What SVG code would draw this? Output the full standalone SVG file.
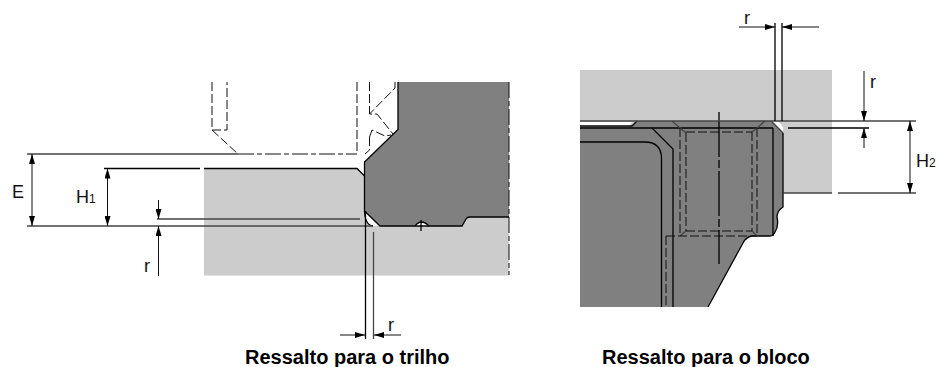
<svg xmlns="http://www.w3.org/2000/svg" width="939" height="367" viewBox="0 0 939 367">
<defs>
<marker id="a" viewBox="0 0 10 6" refX="10" refY="3" markerWidth="10" markerHeight="6" markerUnits="userSpaceOnUse" orient="auto-start-reverse"><path d="M0 0L10 3L0 6Z" fill="#000"/></marker>
</defs>
<style>
.l{fill:#ccc}.d{fill:#808080}
.k{fill:none;stroke:#000;stroke-width:1.3}
.g{fill:none;stroke:#444;stroke-width:1.3}
.da{fill:none;stroke:#111;stroke-width:1;stroke-dasharray:9 3}
.dd{fill:none;stroke:#111;stroke-width:1;stroke-dasharray:16 3 5 3}
.ar{fill:none;stroke:#111;stroke-width:1;marker-end:url(#a)}
text{font-family:"Liberation Sans",Arial,sans-serif;font-size:18px;fill:#111}
.b{font-weight:bold;font-size:20px;fill:#000}
.s{font-size:12px}
</style>
<g id="rail-part">
<rect class="l" x="204" y="168.5" width="305" height="107"/>
<path d="M357 168.5L364.500 176V168Z" fill="#fff"/>
<path class="d" d="M398 82V129.500L364.500 162V211L380 226H462L466 219Q467 217 470 217H509V82Z"/>
<path d="M364.500 211L380 226H373Q365.500 225 364.500 217Z" fill="#fff"/>
<path d="M415 226Q421 218 429 226Z" fill="#fff"/>
<path class="k" d="M398 82V129.500L364.500 162V211L380 226H462L466 219Q467 217 470 217H509"/>
<path class="k" d="M104 168.500H200M204 168.500H357L364.500 176M364.500 211Q365 225 373 226"/>
<path d="M415 226Q421 218 429 226M421 220V231" class="k"/>
<path class="dd" d="M509 82V275"/>
<path class="da" d="M212 82V130H227V82M357 82V154M369.500 82V114M369.500 137V150L365 154"/>
<path class="da" d="M212 130L238 154" stroke-dasharray="none"/>
<path class="dd" d="M238 154H357"/>
<path class="da" stroke-dasharray="7 2" d="M395 82V88L369.500 114H377L393 134M369.500 137L372 130L385 136L391 135"/>
</g>
<g id="block-part">
<rect class="l" x="580" y="70" width="252" height="123"/>
<path d="M580 122H632L629 126H580Z" fill="#fff"/>
<path class="d" d="M580 127H629L632 126L637 121H771L783 133V207Q777 211 777 217Q779 226 775 232Q773 236 770 236H752Q746 237 743 243L708 307H580Z"/>
<path d="M773 121L783 132V128Q781 122 775 121Z" fill="#fff"/>
<path class="k" d="M783 133V207Q777 211 777 217Q779 226 775 232Q773 236 770 236H752Q746 237 743 243L708 307"/>
<path class="k" d="M580 142H645Q661 142 661.500 158V307M652 128L673 149V307M773 128V236"/>
<path class="k" d="M580 128H773M637 121L632 126H580"/>
<path class="g" d="M771 121L783 133M672 121L679 127L686 133M757 128L765 121M752 132L757 128M680 236L686 231M752 231L757 236"/>
<path class="da" d="M680 128V236M686 133V231M686 132H752M686 231H752M666 236H757M752 132V231M757 128V236M666 236V307"/>
<path class="k" d="M719 112V264" stroke-dasharray="45 3 8 3"/>
</g>
<g id="connectors">
<path class="g" d="M27 154H238M27 226H372M157 219H360"/>
<path class="k" d="M365.500 211V339"/>
<path class="g" d="M373.500 232V339"/>
<path class="g" d="M580 121H916M783 193H832M838 193H916"/>
<path class="k" d="M775 23V121M782 23V121M788 128H869"/>
<path class="ar" d="M32 190V154"/><path class="ar" d="M32 190V226"/>
<path class="ar" d="M107.500 197V168.500"/><path class="ar" d="M107.500 197V226"/>
<path class="ar" d="M158.500 200V219"/><path class="ar" d="M158.500 276V226"/>
<path class="ar" d="M340 335H365"/><path class="ar" d="M401 335H374"/>
<path class="ar" d="M739 27H775"/><path class="ar" d="M819 27H782"/>
<path class="ar" d="M864 71V121"/><path class="ar" d="M864 148V128"/>
<path class="ar" d="M910 157V121"/><path class="ar" d="M910 157V193"/>
</g>
<g id="labels">
<text x="12" y="198">E</text>
<text x="76" y="203">H<tspan class="s">1</tspan></text>
<text x="144" y="272">r</text>
<text x="388" y="331">r</text>
<text x="744" y="24">r</text>
<text x="870" y="88">r</text>
<text x="916" y="167">H<tspan class="s">2</tspan></text>
<text class="b" x="245" y="364">Ressalto para o trilho</text>
<text class="b" x="602" y="364">Ressalto para o bloco</text>
</g>
</svg>
